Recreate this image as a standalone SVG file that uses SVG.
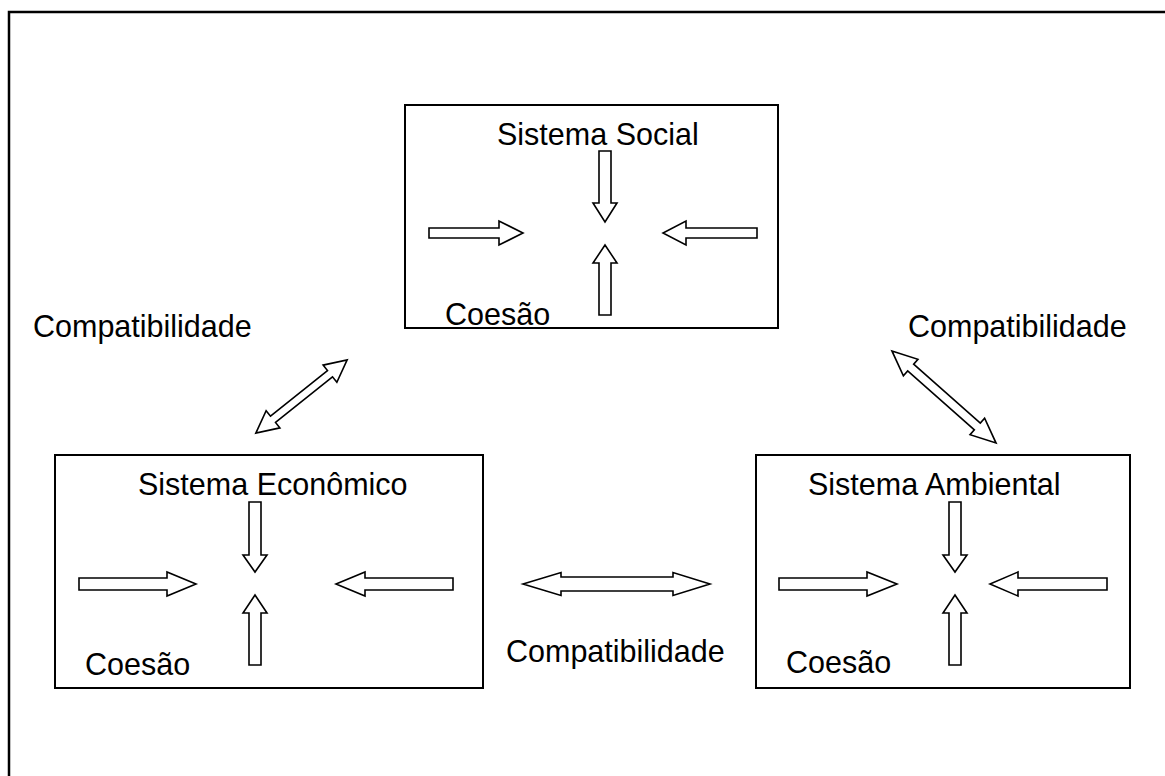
<svg xmlns="http://www.w3.org/2000/svg" width="1165" height="776" viewBox="0 0 1165 776">
  <style>
    .frame { fill: none; stroke: #000; stroke-width: 2.5; }
    .box { fill: #fff; stroke: #000; stroke-width: 2; }
    .arr { fill: #fff; stroke: #000; stroke-width: 1.6; stroke-linejoin: miter; }
    .lbl { font-family: "Liberation Sans", Arial, sans-serif; font-size: 30.5px; fill: #000; }
  </style>
  <rect width="1165" height="776" fill="#fff"/>
  <!-- page frame: only the top and left edges are drawn -->
  <path class="frame" d="M9,776 V12 H1165"/>

  <g id="connectors">
    <!-- Social <-> Econômico -->
    <polygon class="arr" transform="translate(301.5,396.5) rotate(-38.7)"
      points="-58.5,0 -36.5,-11 -36.5,-4 36.5,-4 36.5,-11 58.5,0 36.5,11 36.5,4 -36.5,4 -36.5,11"/>
    <!-- Social <-> Ambiental -->
    <polygon class="arr" transform="translate(944,397) rotate(41.5)"
      points="-69.5,0 -44.5,-11 -44.5,-4.5 44.5,-4.5 44.5,-11 69.5,0 44.5,11 44.5,4.5 -44.5,4.5 -44.5,11"/>
    <!-- Econômico <-> Ambiental -->
    <polygon class="arr"
      points="523,584 561,572.5 561,577 673,577 673,572.5 710,584 673,595.5 673,591 561,591 561,595.5"/>
    <text class="lbl" x="33" y="337">Compatibilidade</text>
    <text class="lbl" x="908" y="337">Compatibilidade</text>
    <text class="lbl" x="506" y="662">Compatibilidade</text>
  </g>

  <g id="social">
    <rect class="box" x="405" y="105" width="373" height="223"/>
    <text class="lbl" x="497" y="145">Sistema Social</text>
    <text class="lbl" x="445" y="325">Coesão</text>
    <polygon class="arr" points="429,228 499,228 499,221 523,233 499,245 499,238 429,238"/>
    <polygon class="arr" points="757,228 686,228 686,221 663,233 686,245 686,238 757,238"/>
    <polygon class="arr" points="599,151 611,151 611,203 617,203 605,222 593,203 599,203"/>
    <polygon class="arr" points="605,245 617,263 611,263 611,315 599,315 599,263 593,263"/>
  </g>

  <g id="economico">
    <rect class="box" x="55" y="455" width="428" height="233"/>
    <text class="lbl" x="138" y="495">Sistema Econômico</text>
    <text class="lbl" x="85" y="675">Coesão</text>
    <polygon class="arr" points="79,578 167,578 167,572 196,584 167,596 167,590 79,590"/>
    <polygon class="arr" points="453,578 365,578 365,572 336,584 365,596 365,590 453,590"/>
    <polygon class="arr" points="249,502 261,502 261,555 267,555 255,572 243,555 249,555"/>
    <polygon class="arr" points="255,595 267,613 261,613 261,665 249,665 249,613 243,613"/>
  </g>

  <g id="ambiental">
    <rect class="box" x="756" y="455" width="374" height="233"/>
    <text class="lbl" x="808" y="495">Sistema Ambiental</text>
    <text class="lbl" x="786" y="673">Coesão</text>
    <polygon class="arr" points="779,578 867,578 867,572 897,584 867,596 867,590 779,590"/>
    <polygon class="arr" points="1107,578 1018,578 1018,572 990,584 1018,596 1018,590 1107,590"/>
    <polygon class="arr" points="949,502 961,502 961,555 967,555 955,572 943,555 949,555"/>
    <polygon class="arr" points="955,595 967,613 961,613 961,665 949,665 949,613 943,613"/>
  </g>
</svg>
